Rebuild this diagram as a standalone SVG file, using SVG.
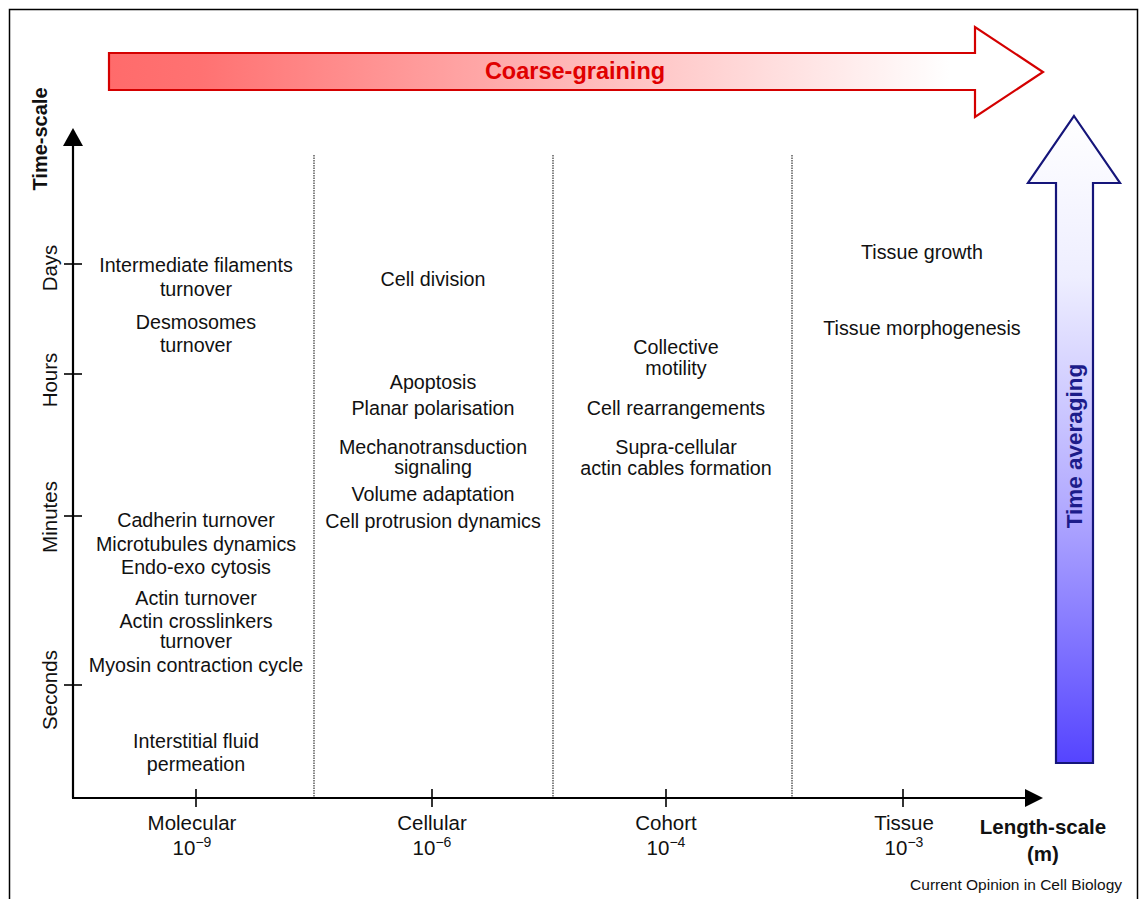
<svg xmlns="http://www.w3.org/2000/svg" width="1141" height="899" viewBox="0 0 1141 899">
<defs>
<style>
text{font-family:"Liberation Sans",Arial,sans-serif;fill:#111;}
.lbl{font-size:19.7px;text-anchor:middle;}
.ax{font-size:20.5px;text-anchor:middle;}
.bold{font-weight:bold;}
.sup{font-size:14px;}
.axis{stroke:#000;stroke-width:2.2;fill:none;}
.tick{stroke:#000;stroke-width:1.6;}
.div{stroke:#333;stroke-width:1.2;stroke-dasharray:1.5 1;}
</style>
<linearGradient id="redg" gradientUnits="userSpaceOnUse" x1="109" y1="0" x2="1043" y2="0">
<stop offset="0" stop-color="#ff6b6b"/>
<stop offset="0.1" stop-color="#ff7272"/>
<stop offset="0.9" stop-color="#ffffff"/>
<stop offset="1" stop-color="#ffffff"/>
</linearGradient>
<linearGradient id="blueg" gradientUnits="userSpaceOnUse" x1="0" y1="116" x2="0" y2="763">
<stop offset="0" stop-color="#ffffff"/>
<stop offset="0.25" stop-color="#eeeeff"/>
<stop offset="0.6" stop-color="#b3abff"/>
<stop offset="1" stop-color="#5544ff"/>
</linearGradient>
</defs>
<rect x="0" y="0" width="1141" height="899" fill="#fff"/>
<rect x="9.5" y="9.5" width="1128" height="900" fill="none" stroke="#000" stroke-width="1.5"/>

<g id="coarse-graining-arrow">
<polygon points="109,53 975,53 975,27 1043,72 975,117 975,90 109,90" fill="url(#redg)" stroke="#d40000" stroke-width="2.2"/>
<text x="575" y="79" class="bold" style="font-size:23.5px;text-anchor:middle;fill:#e00000">Coarse-graining</text>
</g>

<g id="time-averaging-arrow">
<polygon points="1074,116 1120,183 1093,183 1093,763 1056,763 1056,183 1028,183" fill="url(#blueg)" stroke="#15157a" stroke-width="2.2"/>
<text transform="translate(1082,446) rotate(-90)" class="bold" style="font-size:22.5px;text-anchor:middle;fill:#1c1c8a">Time averaging</text>
</g>

<g id="connectors">
<line x1="73" y1="140" x2="73" y2="798" class="axis"/>
<polygon points="73,128 83,146 63,146" fill="#000"/>
<line x1="72" y1="798" x2="1030" y2="798" class="axis"/>
<polygon points="1043,798 1025,789 1025,807" fill="#000"/>
<line x1="64" y1="264" x2="82" y2="264" class="tick"/>
<line x1="64" y1="374" x2="82" y2="374" class="tick"/>
<line x1="64" y1="516" x2="82" y2="516" class="tick"/>
<line x1="64" y1="685" x2="82" y2="685" class="tick"/>
<line x1="196" y1="789" x2="196" y2="807" class="tick"/>
<line x1="432" y1="789" x2="432" y2="807" class="tick"/>
<line x1="666" y1="789" x2="666" y2="807" class="tick"/>
<line x1="903" y1="789" x2="903" y2="807" class="tick"/>
<line x1="314" y1="155" x2="314" y2="797" class="div"/>
<line x1="553" y1="155" x2="553" y2="797" class="div"/>
<line x1="792" y1="155" x2="792" y2="797" class="div"/>
</g>

<g id="y-axis-labels">
<text transform="translate(47,139) rotate(-90)" class="bold" style="font-size:20px;text-anchor:middle">Time-scale</text>
<text transform="translate(57,268) rotate(-90)" class="ax">Days</text>
<text transform="translate(57,380) rotate(-90)" class="ax">Hours</text>
<text transform="translate(57,517) rotate(-90)" class="ax">Minutes</text>
<text transform="translate(57,690) rotate(-90)" class="ax">Seconds</text>
</g>

<g id="x-axis-labels">
<text x="192" y="830" class="ax">Molecular</text>
<text x="192" y="855" class="ax">10<tspan class="sup" dy="-8">−9</tspan></text>
<text x="432" y="830" class="ax">Cellular</text>
<text x="432" y="855" class="ax">10<tspan class="sup" dy="-8">−6</tspan></text>
<text x="666" y="830" class="ax">Cohort</text>
<text x="666" y="855" class="ax">10<tspan class="sup" dy="-8">−4</tspan></text>
<text x="904" y="830" class="ax">Tissue</text>
<text x="904" y="855" class="ax">10<tspan class="sup" dy="-8">−3</tspan></text>
<text x="1043" y="834" class="ax bold">Length-scale</text>
<text x="1043" y="861" class="ax bold">(m)</text>
<text x="1122" y="890" style="font-size:15.5px;text-anchor:end">Current Opinion in Cell Biology</text>
</g>

<g id="molecular">
<text x="196" y="272" class="lbl">Intermediate filaments</text>
<text x="196" y="296" class="lbl">turnover</text>
<text x="196" y="329" class="lbl">Desmosomes</text>
<text x="196" y="352" class="lbl">turnover</text>
<text x="196" y="527" class="lbl">Cadherin turnover</text>
<text x="196" y="551" class="lbl">Microtubules dynamics</text>
<text x="196" y="574" class="lbl">Endo-exo cytosis</text>
<text x="196" y="605" class="lbl">Actin turnover</text>
<text x="196" y="628" class="lbl">Actin crosslinkers</text>
<text x="196" y="648" class="lbl">turnover</text>
<text x="196" y="672" class="lbl">Myosin contraction cycle</text>
<text x="196" y="748" class="lbl">Interstitial fluid</text>
<text x="196" y="771" class="lbl">permeation</text>
</g>

<g id="cellular">
<text x="433" y="286" class="lbl">Cell division</text>
<text x="433" y="389" class="lbl">Apoptosis</text>
<text x="433" y="415" class="lbl">Planar polarisation</text>
<text x="433" y="454" class="lbl">Mechanotransduction</text>
<text x="433" y="474" class="lbl">signaling</text>
<text x="433" y="501" class="lbl">Volume adaptation</text>
<text x="433" y="528" class="lbl">Cell protrusion dynamics</text>
</g>

<g id="cohort">
<text x="676" y="354" class="lbl">Collective</text>
<text x="676" y="375" class="lbl">motility</text>
<text x="676" y="415" class="lbl">Cell rearrangements</text>
<text x="676" y="454" class="lbl">Supra-cellular</text>
<text x="676" y="475" class="lbl">actin cables formation</text>
</g>

<g id="tissue">
<text x="922" y="259" class="lbl">Tissue growth</text>
<text x="922" y="335" class="lbl">Tissue morphogenesis</text>
</g>
</svg>
